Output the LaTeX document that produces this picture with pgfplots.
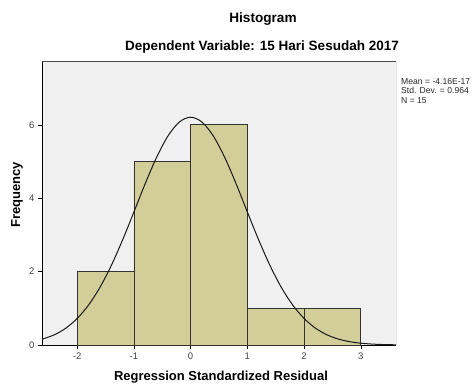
\documentclass[border=0pt]{standalone}
\usepackage{pgfplots}
\pgfplotsset{compat=1.18}
\usepackage{fontspec}
\setmainfont{Liberation Sans}
\definecolor{barfill}{RGB}{211,206,153}
\definecolor{bgfill}{RGB}{240,240,240}
\begin{document}
\begin{tikzpicture}[x=1pt,y=1pt]
\path[use as bounding box] (0,0) rectangle (476,389);
\begin{axis}[
  at={(42pt,44pt)}, anchor=south west,
  scale only axis, width=354pt, height=284pt,
  xmin=-2.62, xmax=3.62, ymin=0, ymax=7.74,
  axis background/.style={fill=bgfill},
  axis x line*=bottom, axis y line*=left,
  axis line style={black, line width=0.9pt},
  xtick={-2,-1,0,1,2,3}, ytick={0,2,4,6},
  tick align=outside, tick style={black, line width=0.6pt},
  major tick length=4pt,
  xtick pos=bottom, ytick pos=left,
  ticklabel style={font=\fontsize{9.5}{10}\selectfont, text=black!75},
  /pgf/number format/assume math mode=true,
  clip=true,
]
\addplot[ybar interval, fill=barfill, draw=black!80, line width=0.7pt] coordinates {
(-2,2) (-1,5) (0,6) (1,1) (2,1) (3,1)};
\addplot[smooth, black!90, line width=1pt] coordinates {
(-2.62,0.155) (-2.4,0.280) (-2.2,0.459) (-2.0,0.722) (-1.8,1.087) (-1.6,1.566)
(-1.4,2.162) (-1.2,2.861) (-1.0,3.625) (-0.8,4.400) (-0.6,5.115) (-0.4,5.696)
(-0.2,6.076) (0,6.208) (0.2,6.076) (0.4,5.696) (0.6,5.115) (0.8,4.400)
(1.0,3.625) (1.2,2.861) (1.4,2.162) (1.6,1.566) (1.8,1.087) (2.0,0.722)
(2.2,0.459) (2.4,0.280) (2.6,0.1635) (2.8,0.0915) (3.0,0.049) (3.2,0.0251)
(3.4,0.0123) (3.62,0.0055)};
\draw[black!70, line width=0.6pt] (rel axis cs:0,1) -- (rel axis cs:1,1) -- (rel axis cs:1,0);
\end{axis}
\node[font=\bfseries\fontsize{13.6}{15}\selectfont, anchor=center] at (263,370) {Histogram};
\node[font=\bfseries\fontsize{13.5}{15}\selectfont, anchor=center] at (262,342) {Dependent Variable: 15 Hari Sesudah 2017};
\node[font=\bfseries\fontsize{13}{15}\selectfont, anchor=center] at (221,12) {Regression Standardized Residual};
\node[font=\bfseries\fontsize{13}{15}\selectfont, anchor=center, rotate=90] at (17,194) {Frequency};
\node[font=\fontsize{8.6}{9.5}\selectfont, anchor=north west, align=left, inner sep=0pt, text=black!85] at (401,311) {Mean = -4.16E-17\\Std. Dev. = 0.964\\N = 15};
\end{tikzpicture}
\end{document}
